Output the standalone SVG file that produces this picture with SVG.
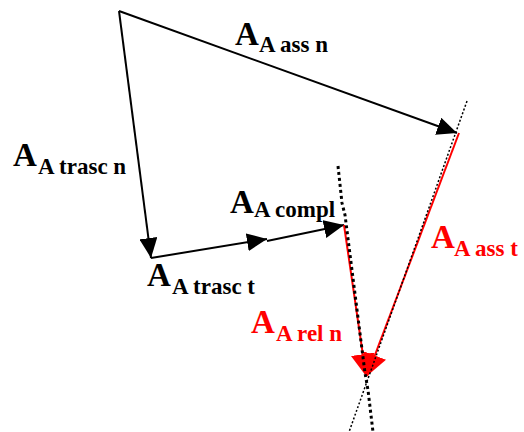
<svg xmlns="http://www.w3.org/2000/svg" width="524" height="432" viewBox="0 0 524 432">
<style>
.lbl{font-family:"Liberation Serif","Times New Roman",serif;font-weight:bold;}
.big{font-size:33px;}
.sub{font-size:23px;}
.blk{fill:#000;}
.red{fill:#ff0000;}
.ln{fill:none;stroke:#000;stroke-width:2;}
.rln{fill:none;stroke:#ff0000;stroke-width:2;}
.dotA{fill:none;stroke:#000;stroke-width:3;stroke-dasharray:3 3;}
.dotB{fill:none;stroke:#000;stroke-width:1.5;stroke-dasharray:2 2;}
</style>
<defs>
<marker id="ah" viewBox="0 0 20 18" refX="20" refY="9" markerWidth="20" markerHeight="18" markerUnits="userSpaceOnUse" orient="auto">
<path d="M0,0 L20,9 L0,18 z" fill="#000"/>
</marker>
<marker id="ahr" viewBox="0 0 22 24" refX="22" refY="12" markerWidth="22" markerHeight="24" markerUnits="userSpaceOnUse" orient="auto">
<path d="M0,0 L22,12 L0,24 z" fill="#ff0000"/>
</marker>
</defs>
<rect width="524" height="432" fill="#fff"/>
<g id="connectors">
<line class="ln" x1="119" y1="11" x2="457" y2="133" marker-end="url(#ah)"/>
<line class="ln" x1="119" y1="11" x2="151" y2="258" marker-end="url(#ah)"/>
<line class="ln" x1="151" y1="258" x2="267" y2="239" marker-end="url(#ah)"/>
<line class="ln" x1="267" y1="241" x2="344" y2="225" marker-end="url(#ah)"/>
<line class="rln" x1="344" y1="225" x2="366" y2="376" marker-end="url(#ahr)"/>
<line class="rln" x1="459" y1="133" x2="367" y2="376" marker-end="url(#ahr)"/>
<polyline class="dotA" points="338,166 342,203 345,215 365,373 368,390 373,432"/>
<line class="dotB" x1="467" y1="101" x2="349" y2="432"/>
</g>
<g id="label-ass-n">
<text class="lbl blk"><tspan class="big" x="235" y="45">A</tspan><tspan class="sub" x="259" y="52">A ass n</tspan></text>
</g>
<g id="label-trasc-n">
<text class="lbl blk"><tspan class="big" x="13" y="166">A</tspan><tspan class="sub" x="38" y="174">A trasc n</tspan></text>
</g>
<g id="label-trasc-t">
<text class="lbl blk"><tspan class="big" x="147" y="286">A</tspan><tspan class="sub" x="172" y="294">A trasc t</tspan></text>
</g>
<g id="label-compl">
<text class="lbl blk"><tspan class="big" x="230" y="213">A</tspan><tspan class="sub" x="254" y="217">A compl</tspan></text>
</g>
<g id="label-rel-n">
<text class="lbl red"><tspan class="big" x="251" y="333">A</tspan><tspan class="sub" x="276" y="341">A rel n</tspan></text>
</g>
<g id="label-ass-t">
<text class="lbl red"><tspan class="big" x="431" y="248">A</tspan><tspan class="sub" x="454" y="256">A ass t</tspan></text>
</g>
</svg>
